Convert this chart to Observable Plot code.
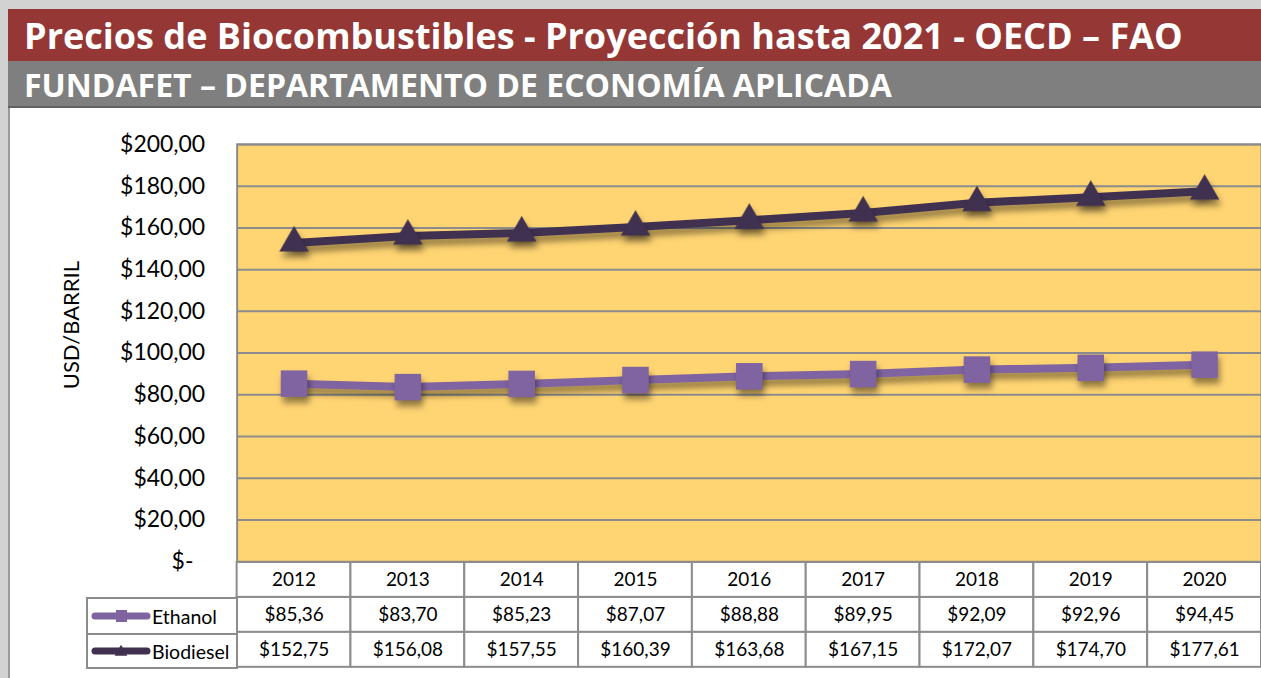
<!DOCTYPE html>
<html>
<head>
<meta charset="utf-8">
<script src="https://cdn.jsdelivr.net/npm/d3@7"></script>
<script src="https://cdn.jsdelivr.net/npm/@observablehq/plot@0.6"></script>
<style>
  html, body { margin: 0; padding: 0; overflow: hidden; }
  body { width: 1261px; height: 678px; background: #d2d2d2; font-family: Lato, "Open Sans", sans-serif; }
  #page { position: relative; width: 1261px; height: 678px; overflow: hidden; }
  #title { position: absolute; left: 8px; top: 9px; width: 1260px; height: 52px; background: #953735;
           color: #fff; font-family: "Open Sans", sans-serif; font-weight: 700; font-size: 30px; line-height: 52px; padding-left: 16px; box-sizing: border-box; white-space: nowrap; }
  #sub { position: absolute; left: 8px; top: 61px; width: 1260px; height: 47px; background: #7f7f7f;
         border-bottom: 2px solid #626262; box-sizing: border-box;
         color: #fff; font-family: "Open Sans", sans-serif; font-weight: 700; font-size: 26px; line-height: 48px; padding-left: 16px; white-space: nowrap; }
  #panel { position: absolute; left: 8px; top: 108px; width: 1260px; height: 580px; background: #fff;
           border-left: 2px solid #9a9a9a; box-sizing: border-box; }
  #chartA { position: absolute; left: 0; top: 108px; }
  #chartB { position: absolute; left: 0; top: 562px; }
  #legend { position: absolute; left: 86px; top: 597px; width: 152px; border: 2px solid #8c8c8c; box-sizing: border-box; background: #fff; }
  #legend .row { height: 34px; display: flex; align-items: center; font-size: 19.5px; color: #000; box-sizing: border-box; }
  #legend .row + .row { border-top: 2px solid #8c8c8c; }
  #legend svg { margin-left: 3px; margin-right: 1px; }
  .chart g[aria-label="line"], .chart g[aria-label="dot"] { filter: drop-shadow(2px 6px 3px rgba(0,0,0,0.42)); }
</style>
</head>
<body>
<div id="page">
  <div id="title"><span>Precios de Biocombustibles - Proyección hasta 2021 - OECD – FAO</span></div>
  <div id="sub"><span>FUNDAFET – DEPARTAMENTO DE ECONOMÍA APLICADA</span></div>
  <div id="panel"></div>
  <div id="chartA"></div>
  <div id="chartB"></div>
  <div id="legend"></div>
</div>
<script>
// ---- data ----
const years = ["2012","2013","2014","2015","2016","2017","2018","2019","2020"];
const ethanol = [85.36, 83.70, 85.23, 87.07, 88.88, 89.95, 92.09, 92.96, 94.45];
const biodiesel = [152.75, 156.08, 157.55, 160.39, 163.68, 167.15, 172.07, 174.70, 177.61];
const seriesNames = ["Ethanol", "Biodiesel"];
const seriesColors = ["#8064A2", "#403151"];
const seriesSymbols = ["square", "triangle"];
const yTicks = [0, 20, 40, 60, 80, 100, 120, 140, 160, 180, 200];
const yTitle = "USD/BARRIL";

// ---- fit header text widths (styling only) ----
function fitWidth(sel, target) {
  const el = document.querySelector(sel);
  const span = el.querySelector("span");
  const fs = parseFloat(getComputedStyle(el).fontSize);
  const w = span.getBoundingClientRect().width;
  if (w > 0) el.style.fontSize = (fs * target / w).toFixed(2) + "px";
}
fitWidth("#title", 1159);
fitWidth("#sub", 868);

// ---- helpers ----
const money = v => v === 0 ? "$-\u00a0\u00a0" : "$" + v.toFixed(2).replace(".", ",");
const seriesValues = [ethanol, biodiesel];
const rows = [];
seriesNames.forEach((name, si) => {
  years.forEach((yr, i) => rows.push({series: name, year: yr, value: seriesValues[si][i]}));
});

const gridColor = "#8c8c8c";

// ---- chart ----
const chartA = Plot.plot({
  className: "chart",
  width: 1263,
  height: 454,
  marginTop: 36,
  marginBottom: 0,
  marginLeft: 237,
  marginRight: 0,
  style: { fontFamily: "Lato, sans-serif", fontSize: "23px", color: "#000", background: "transparent", overflow: "visible" },
  x: { type: "band", domain: years, padding: 0, axis: null },
  y: { domain: [0, 200], axis: null },
  color: { domain: seriesNames, range: seriesColors },
  marks: [
    Plot.frame({ fill: "#FFD573", stroke: null }),
    Plot.gridY(yTicks.filter(d => d > 0), { stroke: gridColor, strokeOpacity: 1, strokeWidth: 2 }),
    Plot.frame({ fill: null, stroke: gridColor, strokeWidth: 2 }),
    Plot.axisY(yTicks, { tickSize: 0, tickPadding: 32, tickFormat: money, label: null, fontSize: 23 }),
    Plot.text([yTitle], { frameAnchor: "left", textAnchor: "middle", rotate: -90, dx: -165, dy: -28, fontSize: 22, fill: "#000" }),
    Plot.line(rows, { x: "year", y: "value", z: "series", stroke: "series", strokeWidth: 8, strokeLinejoin: "round" }),
    Plot.dot(rows.filter(d => d.series === "Ethanol"), { x: "year", y: "value", symbol: "square", r: 15, fill: seriesColors[0], stroke: null }),
    Plot.dot(rows.filter(d => d.series === "Biodiesel"), { x: "year", y: "value", symbol: "triangle", r: 11, fill: seriesColors[1], stroke: null })
  ]
});
document.getElementById("chartA").appendChild(chartA);

// ---- data table ----
const tableRows = ["year", ...seriesNames];
const cells = [];
years.forEach(yr => cells.push({ row: "year", year: yr, label: yr }));
rows.forEach(d => cells.push({ row: d.series, year: d.year, label: money(d.value) }));

const chartB = Plot.plot({
  width: 1263,
  height: 116,
  marginTop: 0,
  marginBottom: 11,
  marginLeft: 237,
  marginRight: 0,
  style: { fontFamily: "Lato, sans-serif", fontSize: "19px", color: "#000", background: "transparent", overflow: "visible" },
  x: { type: "band", domain: years, padding: 0, axis: null },
  y: { type: "band", domain: tableRows, padding: 0, axis: null },
  marks: [
    Plot.cell(cells, { x: "year", y: "row", fill: "#fff", stroke: gridColor, strokeWidth: 2 }),
    Plot.text(cells, { x: "year", y: "row", text: "label", fontSize: 19, fill: "#000" })
  ]
});
document.getElementById("chartB").appendChild(chartB);

// ---- legend column ----
const legend = d3.select("#legend");
seriesNames.forEach((name, i) => {
  const row = legend.append("div").attr("class", "row");
  const svg = row.append("svg").attr("width", 60).attr("height", 16);
  svg.append("line").attr("x1", 4).attr("x2", 56).attr("y1", 8).attr("y2", 8)
    .attr("stroke", seriesColors[i]).attr("stroke-width", 7).attr("stroke-linecap", "round");
  if (seriesSymbols[i] === "square") {
    svg.append("rect").attr("x", 25).attr("y", 2).attr("width", 11).attr("height", 12).attr("fill", seriesColors[i]);
  } else {
    svg.append("path").attr("d", d3.symbol(d3.symbolTriangle, 70)()).attr("transform", "translate(30,9)").attr("fill", seriesColors[i]);
  }
  row.append("span").text(name);
});
</script>
</body>
</html>
